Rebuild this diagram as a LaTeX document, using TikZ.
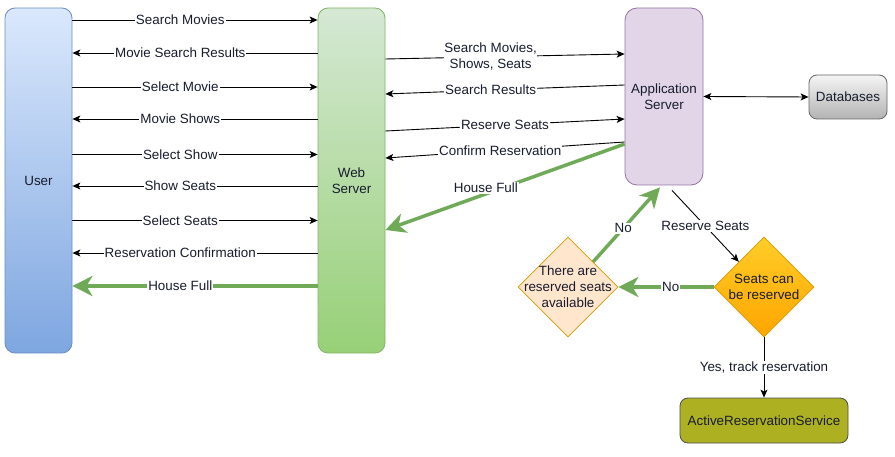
\documentclass[tikz,border=0pt]{standalone}
\usepackage{fontspec}
\setmainfont{Liberation Sans}
\usetikzlibrary{arrows.meta,shapes.geometric}
\definecolor{txt}{RGB}{24,28,46}
\definecolor{userTop}{HTML}{DAE8FC}
\definecolor{userBot}{HTML}{7EA6E0}
\definecolor{userLine}{HTML}{6C8EBF}
\definecolor{webTop}{HTML}{D5E8D4}
\definecolor{webBot}{HTML}{97D077}
\definecolor{webLine}{HTML}{82B366}
\definecolor{appFill}{HTML}{E1D5E7}
\definecolor{appLine}{HTML}{9673A6}
\definecolor{dbTop}{HTML}{F5F5F5}
\definecolor{dbBot}{HTML}{B3B3B3}
\definecolor{dbLine}{HTML}{666666}
\definecolor{orTop}{HTML}{FFCD28}
\definecolor{orBot}{HTML}{FFA500}
\definecolor{orLine}{HTML}{D79B00}
\definecolor{peach}{HTML}{FFE6CC}
\definecolor{olive}{RGB}{173,177,33}
\definecolor{oliveLine}{HTML}{4D4D4D}
\definecolor{garrow}{RGB}{112,170,88}
\begin{document}
\begin{tikzpicture}[x=1pt,y=-1pt,
  font=\fontsize{13.4}{16}\selectfont, text=txt,
  box/.style={draw, line width=0.8pt, align=center, inner sep=2pt},
  arr/.style={-{Stealth[length=8pt,width=7pt,inset=2pt]}, line width=0.9pt, draw=black},
  barr/.style={{Stealth[length=8pt,width=7pt,inset=2pt]}-{Stealth[length=8pt,width=7pt,inset=2pt]}, line width=0.9pt, draw=black},
  garr/.style={-{Stealth[length=20pt,width=20pt,inset=6pt]}, line width=3.5pt, draw=garrow},
  lbl/.style={fill=white, inner sep=1pt, text=txt, align=center},
  dia/.style={diamond, draw=orLine, line width=0.8pt, minimum width=100pt, minimum height=100pt, inner sep=0pt, aspect=1}
]
\useasboundingbox (0,0) rectangle (895,457);

% nodes
\node[box, rounded corners=10pt, draw=userLine, top color=userTop, bottom color=userBot,
      minimum width=67pt, minimum height=345pt] (user) at (38.5,180.5) {User};
\node[box, rounded corners=10pt, draw=webLine, top color=webTop, bottom color=webBot,
      minimum width=67pt, minimum height=345pt] (web) at (351.5,180.5) {Web\\Server};
\node[box, rounded corners=12pt, draw=appLine, fill=appFill,
      minimum width=78pt, minimum height=177pt] (app) at (664,96.5) {Application\\Server};
\node[box, rounded corners=8pt, draw=dbLine, top color=dbTop, bottom color=dbBot,
      minimum width=78pt, minimum height=44pt] (db) at (848,97) {Databases};
\node[dia, top color=orTop, bottom color=orBot,
      label={[align=center,text=txt]center:Seats can\\be reserved}] (seats) at (764,287) {};
\node[dia, fill=peach,
      label={[align=center,text=txt]center:There are\\reserved seats\\available}] (there) at (568,287) {};
\node[box, rounded corners=8pt, draw=oliveLine, fill=olive,
      minimum width=168pt, minimum height=45pt] (ars) at (764,420.5) {ActiveReservationService};

% user <-> web
\draw[arr] (user.east |- 0,20) -- node[lbl,pos=0.44]{Search Movies} (web.west |- 0,20);
\draw[arr] (web.west |- 0,53) -- node[lbl,pos=0.56]{Movie Search Results} (user.east |- 0,53);
\draw[arr] (user.east |- 0,87) -- node[lbl,pos=0.44]{Select Movie} (web.west |- 0,87);
\draw[arr] (web.west |- 0,119) -- node[lbl,pos=0.56]{Movie Shows} (user.east |- 0,119);
\draw[arr] (user.east |- 0,154.5) -- node[lbl,pos=0.44]{Select Show} (web.west |- 0,154.5);
\draw[arr] (web.west |- 0,186) -- node[lbl,pos=0.56]{Show Seats} (user.east |- 0,186);
\draw[arr] (user.east |- 0,220.5) -- node[lbl,pos=0.44]{Select Seats} (web.west |- 0,220.5);
\draw[arr] (web.west |- 0,253) -- node[lbl,pos=0.56]{Reservation Confirmation} (user.east |- 0,253);
\draw[garr] (web.west |- 0,286) -- node[lbl,pos=0.56]{House Full} (user.east |- 0,286);

% web <-> app
\draw[arr] (web.east |- 0,59) -- node[lbl,pos=0.44,inner sep=0pt]{Search Movies,\\Shows, Seats} (app.west |- 0,54);
\draw[arr] (app.west |- 0,85) -- node[lbl,pos=0.56]{Search Results} (web.east |- 0,94);
\draw[arr] (web.east |- 0,131) -- node[lbl,pos=0.5]{Reserve Seats} (app.west |- 0,119);
\draw[arr] (app.west |- 0,142) -- node[lbl,pos=0.52]{Confirm Reservation} (web.east |- 0,158);
\draw[garr] (app.west |- 0,144) -- node[lbl,pos=0.58,yshift=6pt]{House Full} (web.east |- 0,230);

% app <-> db
\draw[barr] (app.east) -- (db.west);

% decision flow
\draw[arr] ([xshift=8pt,yshift=-5pt]app.south) -- node[lbl,pos=0.5]{Reserve Seats} (seats.north west);
\draw[garr] (seats.west) -- node[lbl,pos=0.45]{No} (there.east);
\draw[garr] (there.north east) -- node[lbl,pos=0.45]{No} ([xshift=-4pt,yshift=-2pt]app.south);
\draw[arr] (seats.south) -- node[lbl,pos=0.5]{Yes, track reservation} (ars.north);
\end{tikzpicture}
\end{document}
